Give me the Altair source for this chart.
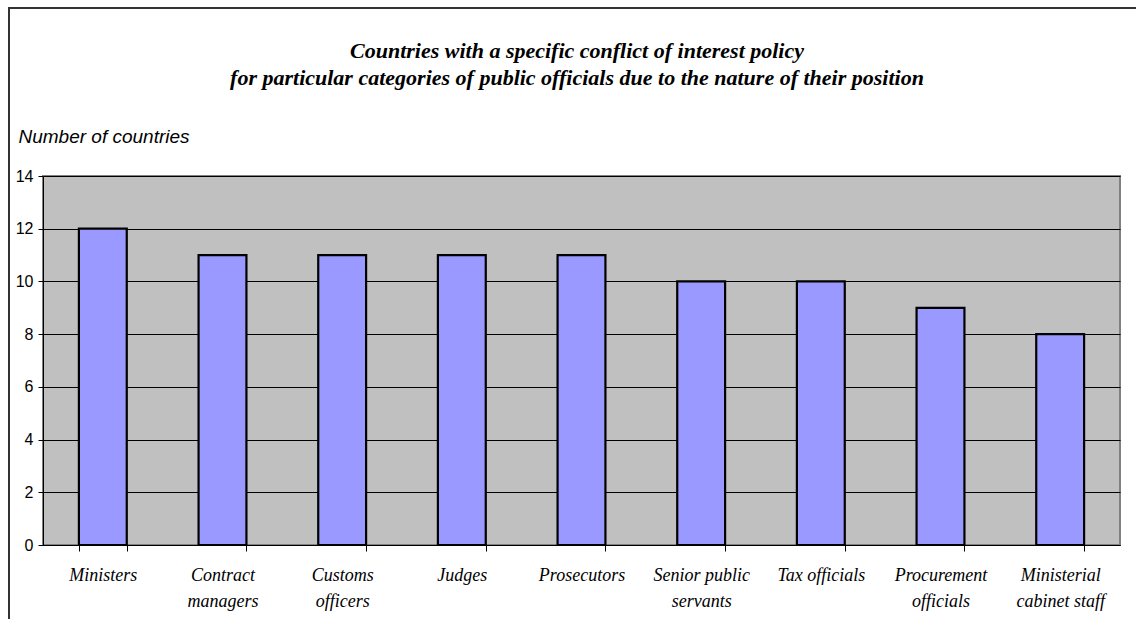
import altair as alt
import pandas as pd

# Categories of public officials and number of countries with a specific policy
categories = [
    "Ministers", "Contract|managers", "Customs|officers", "Judges", "Prosecutors",
    "Senior public|servants", "Tax officials", "Procurement|officials",
    "Ministerial|cabinet staff",
]
countries = [12, 11, 11, 11, 11, 10, 10, 9, 8]
y_ticks = [0, 2, 4, 6, 8, 10, 12, 14]

title_lines = [
    "Countries with a specific conflict of interest policy",
    "for particular categories of public officials due to the nature of their position",
]

df = pd.DataFrame({"category": categories, "countries": countries})

W, H = 1077, 369
serif = "Liberation Serif"
sans = "Liberation Sans"

bars = alt.Chart(df).mark_bar(
    fill="#9999FF", stroke="black", strokeWidth=2.2
).encode(
    x=alt.X(
        "category:N",
        sort=categories,
        scale=alt.Scale(paddingInner=0.6, paddingOuter=0.3),
        axis=alt.Axis(
            title=None,
            labelAngle=0,
            labelExpr="datum.value ? split(datum.value, '|') : ''",
            labelFont=serif,
            labelFontStyle="italic",
            labelFontSize=18,
            labelColor="black",
            labelLineHeight=26,
            labelPadding=15,
            labelBaseline="top",
            tickBand="extent",
            tickSize=6,
            tickColor="black",
            domainColor="black",
            grid=False,
        ),
    ),
    y=alt.Y(
        "countries:Q",
        scale=alt.Scale(domain=[0, 14], nice=False),
        axis=alt.Axis(
            title="Number of countries",
            values=y_ticks,
            titleAngle=0,
            titleX=-25,
            titleY=-34,
            titleAlign="left",
            titleBaseline="alphabetic",
            titleFont=sans,
            titleFontStyle="italic",
            titleFontWeight="normal",
            titleFontSize=19,
            titleColor="black",
            labelFont=sans,
            labelFontSize=16,
            labelColor="black",
            labelPadding=5,
            tickSize=5,
            tickColor="black",
            domainColor="black",
            gridColor="black",
            gridWidth=1,
        ),
    ),
)

# Two-line chart heading, centred over the figure
title_base = alt.Chart(pd.DataFrame({"k": [0]})).mark_text(
    font=serif, fontStyle="italic", fontWeight="bold", fontSize=22,
    align="center", baseline="alphabetic", color="black",
)
title1 = title_base.encode(x=alt.value(534), y=alt.value(-118), text=alt.value(title_lines[0]))
title2 = title_base.encode(x=alt.value(534), y=alt.value(-91), text=alt.value(title_lines[1]))

# Outer frame around the figure
frame = alt.Chart(pd.DataFrame({"k": [0]})).mark_rect(
    filled=False, stroke="#333333", strokeWidth=2
).encode(
    x=alt.value(-34),
    x2=alt.value(W + 60),
    y=alt.value(-168),
    y2=alt.value(H + 120),
)

chart = alt.layer(bars, title1, title2, frame).properties(
    width=W,
    height=H,
    background="white",
    autosize=alt.AutoSizeParams(type="none"),
    padding={"left": 43, "top": 176, "right": 16, "bottom": 74},
).configure_view(
    fill="#C0C0C0", stroke="#808080", strokeWidth=2
)

chart.save("out.html", embed_options={"renderer": "svg", "actions": False})
